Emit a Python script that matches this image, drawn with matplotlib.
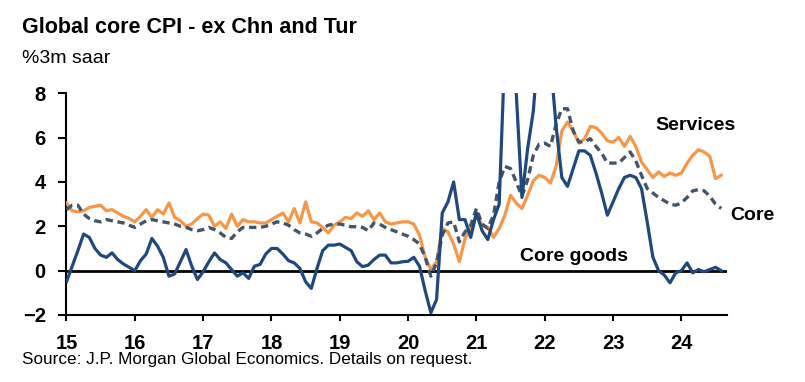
import numpy as np
import matplotlib
matplotlib.use("Agg")
import matplotlib.pyplot as plt

plt.rcParams['font.family'] = ['Liberation Sans', 'DejaVu Sans']

# monthly, Jan 2015 - Aug 2024, %3m saar
services = [
    3.05, 2.7, 2.65, 2.7, 2.85, 2.9, 2.95, 2.7, 2.75, 2.6, 2.45, 2.35,
    2.2, 2.45, 2.75, 2.4, 2.75, 2.55, 3.05, 2.4, 2.25, 2.0, 2.1, 2.35,
    2.55, 2.5, 2.0, 2.2, 1.9, 2.55, 2.0, 2.3, 2.2, 2.2, 2.15, 2.15,
    2.3, 2.45, 2.6, 2.2, 2.8, 2.15, 3.1, 2.2, 2.15, 1.95, 1.7, 2.05,
    2.2, 2.4, 2.35, 2.6, 2.45, 2.7, 2.3, 2.6, 2.2, 2.1, 2.15, 2.2,
    2.2, 2.1, 1.6, 0.6, 0.05, 0.4, 1.9, 1.75, 1.2, 0.4, 1.45, 1.9,
    2.5, 2.05, 1.95, 1.5, 1.9, 2.5, 3.4, 3.05, 2.8, 3.4, 4.05, 4.3,
    4.2, 3.95, 4.7, 6.3, 6.7, 6.3, 5.75, 5.95, 6.5, 6.45, 6.2, 5.85,
    5.8, 6.0, 5.6, 6.05, 5.6, 4.9, 4.55, 4.2, 4.45, 4.25, 4.4, 4.3,
    4.4, 4.85, 5.2, 5.45, 5.35, 5.15, 4.15, 4.3,
]
core = [
    2.75, 2.95, 2.95, 2.55, 2.35, 2.25, 2.2, 2.3, 2.25, 2.2, 2.15, 2.05,
    1.95, 2.1, 2.25, 2.3, 2.25, 2.2, 2.15, 2.1, 2.0, 1.95, 1.85, 1.8,
    1.85, 1.95, 1.85, 1.7, 1.5, 1.45, 1.75, 1.95, 1.95, 1.95, 1.95, 2.0,
    2.1, 2.2, 2.15, 2.05, 1.85, 1.7, 1.65, 1.55, 1.7, 1.9, 2.05, 2.1,
    2.1, 2.05, 1.98, 1.98, 1.95, 1.8, 2.15, 2.1, 1.95, 1.85, 1.75, 1.65,
    1.55, 1.4, 1.2, 0.6, -0.25, 0.35, 1.6, 2.15, 2.2, 1.3, 1.75, 2.05,
    2.8, 2.1, 1.9, 2.5, 4.0, 4.7, 4.6, 4.0, 3.35, 4.1, 5.2, 5.7,
    5.75, 5.6, 6.6, 7.3, 7.3, 6.3, 5.8, 5.8, 5.95, 5.6, 5.3, 4.85,
    4.85, 4.85, 5.1, 5.35, 4.95, 4.3, 3.7, 3.5, 3.3, 3.15, 3.0, 2.95,
    3.05, 3.3, 3.6, 3.65, 3.6, 3.35, 3.0, 2.8,
]
core_goods = [
    -0.5, 0.2, 0.9, 1.65, 1.5, 1.0, 0.7, 0.6, 0.8, 0.5, 0.3, 0.15,
    0.0, 0.45, 0.75, 1.45, 1.1, 0.6, -0.25, -0.15, 0.4, 0.95, 0.2, -0.4,
    -0.05, 0.4, 0.8, 0.5, 0.35, 0.05, -0.25, -0.1, -0.35, 0.2, 0.28, 0.75,
    1.0, 1.0, 0.75, 0.45, 0.35, 0.1, -0.5, -0.8, 0.1, 0.9, 1.15, 1.15,
    1.2, 1.05, 0.9, 0.4, 0.18, 0.25, 0.5, 0.7, 0.7, 0.35, 0.35, 0.4,
    0.42, 0.6, 0.2, -0.9, -1.9, -1.3, 2.6, 3.1, 4.0, 2.3, 2.3, 1.5,
    2.6, 1.8, 1.4, 2.3, 3.0, 10.0, 10.0, 8.0, 3.3, 5.5, 7.2, 10.5,
    11.0, 9.5, 6.5, 4.2, 3.8, 4.6, 5.4, 5.4, 5.2, 4.4, 3.5, 2.5,
    3.1, 3.7, 4.2, 4.3, 4.2, 3.7, 2.2, 0.6, 0.0, -0.2, -0.55, -0.1,
    0.0, 0.35, -0.1, 0.05, -0.05, 0.05, 0.15, 0.0,
]
year_labels = ['15', '16', '17', '18', '19', '20', '21', '22', '23', '24']

x = np.arange(len(services))

fig = plt.figure(figsize=(8.05, 3.82), dpi=100)
ax = fig.add_axes([0.0826, 0.1754, 0.8204, 0.5806])

ax.axhline(0, color='black', lw=2.0, zorder=1)
ax.plot(x, services, color='#F79646', lw=2.3, zorder=3)
ax.plot(x, core, color='#44546A', lw=2.4, ls=(0, (2.2, 1.4)), zorder=4)
ax.plot(x, core_goods, color='#1F497D', lw=2.3, zorder=5)

ax.set_ylim(-2, 8)
ax.set_xlim(0, 116)
ax.set_yticks([-2, 0, 2, 4, 6, 8])
ax.set_xticks(np.arange(0, 12 * len(year_labels), 12))
ax.set_xticklabels(year_labels)
for lab in ax.get_xticklabels() + ax.get_yticklabels():
    lab.set_fontweight('bold')
    lab.set_fontsize(14.5)
ax.tick_params(axis='y', length=6, width=1.5, pad=9)
ax.tick_params(axis='x', length=4, width=1.5, pad=10, direction='out')

for s in ['top', 'right']:
    ax.spines[s].set_visible(False)
for s in ['left', 'bottom']:
    ax.spines[s].set_linewidth(1.5)
    ax.spines[s].set_color('black')

# series labels
ax.text(103.4, 6.55, 'Services', fontsize=14, fontweight='bold', va='center', ha='left')
ax.text(116.6, 2.5, 'Core', fontsize=14, fontweight='bold', va='center', ha='left', clip_on=False)
ax.text(79.7, 0.66, 'Core goods', fontsize=14, fontweight='bold', va='center', ha='left')

fig.text(0.027, 0.928, 'Global core CPI - ex Chn and Tur', fontsize=15.5, fontweight='bold', va='center')
fig.text(0.027, 0.847, '%3m saar', fontsize=14, va='center')
fig.text(0.027, 0.058, 'Source: J.P. Morgan Global Economics. Details on request.', fontsize=12.3, va='center')

fig.savefig('out.png', dpi=100)
